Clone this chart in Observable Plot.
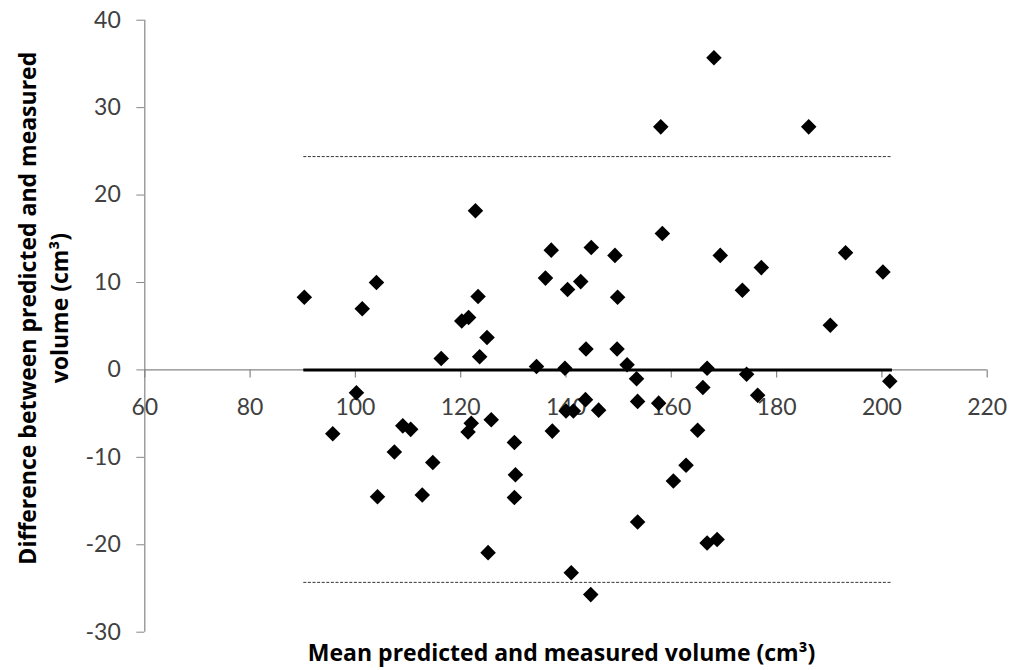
<!DOCTYPE html>
<html>
<head>
<meta charset="utf-8">
<script src="https://cdn.jsdelivr.net/npm/d3@7"></script>
<script src="https://cdn.jsdelivr.net/npm/@observablehq/plot@0.6"></script>
<style>
  html, body { margin: 0; padding: 0; background: #fff; }
  #chart { width: 1013px; height: 670px; }
</style>
</head>
<body>
<div id="chart"></div>
<script>
// Mean of predicted and measured volume (cm³)
const meanVolume = [
  90.3, 95.7, 100.2, 101.3, 104.0, 104.2, 107.4, 109.0, 110.5, 112.7,
  114.7, 116.3, 120.2, 121.5, 121.4, 122.0, 122.8, 123.3, 123.6, 125.0,
  125.2, 125.8, 130.2, 130.4, 130.2, 134.4, 136.1, 137.2, 137.4, 139.8,
  140.0, 140.3, 141.0, 141.4, 142.8, 143.7, 143.8, 144.7, 144.8, 146.2,
  149.3, 149.7, 149.8, 151.6, 153.4, 153.6, 153.6, 157.6, 158.0, 158.3,
  160.4, 162.8, 165.0, 166.0, 166.8, 166.8, 168.1, 168.7, 169.3, 173.5,
  174.3, 176.4, 177.1, 186.1, 190.2, 193.1, 200.2, 201.5
];
// Difference between predicted and measured volume (cm³)
const difference = [
  8.3, -7.3, -2.6, 7.0, 10.0, -14.5, -9.4, -6.4, -6.8, -14.3,
  -10.6, 1.3, 5.6, 6.0, -7.1, -6.1, 18.2, 8.4, 1.5, 3.7,
  -20.9, -5.7, -8.3, -12.0, -14.6, 0.4, 10.5, 13.7, -7.0, 0.2,
  -4.7, 9.2, -23.2, -4.7, 10.1, -3.4, 2.4, -25.7, 14.0, -4.6,
  13.1, 2.4, 8.3, 0.6, -1.0, -3.6, -17.4, -3.8, 27.8, 15.6,
  -12.7, -10.9, -6.9, -2.0, 0.2, -19.8, 35.7, -19.4, 13.1, 9.1,
  -0.5, -2.9, 11.7, 27.8, 5.1, 13.4, 11.2, -1.3
];
// Bias line and limits of agreement
const lineStart = 90.2;
const lineEnd = 202.0;
const meanDiff = 0;
const upperLimit = 24.4;
const lowerLimit = -24.3;

const xTicks = [60, 80, 100, 120, 140, 160, 180, 200, 220];
const yTicks = [-30, -20, -10, 0, 10, 20, 30, 40];
const xTitle = "Mean predicted and measured volume (cm³)";
const yTitle = "Difference between predicted and measured\nvolume (cm³)";

const points = meanVolume.map((m, i) => ({mean: m, diff: difference[i]}));
const limits = [
  {y: upperLimit},
  {y: lowerLimit}
];

const axisGray = "#868686";
const textGray = "#404040";
const titleFont = "'Open Sans', Lato, sans-serif";

const chart = Plot.plot({
  width: 1013,
  height: 670,
  marginLeft: 144.3,
  marginRight: 26.3,
  marginTop: 19.7,
  marginBottom: 38.3,
  style: {fontFamily: "Lato, 'Open Sans', sans-serif", background: "#fff", overflow: "visible"},
  x: {domain: [60, 220], axis: null},
  y: {domain: [-30, 40], axis: null},
  marks: [
    // y axis
    Plot.ruleX([60], {y1: -30, y2: 40, stroke: axisGray, strokeWidth: 1.2}),
    Plot.axisY(yTicks, {
      anchor: "left", tickSize: 8, tickPadding: 16, stroke: axisGray,
      fill: textGray, fontSize: 23, label: null, tickFormat: d => String(d)
    }),
    // x axis drawn along y = 0
    Plot.ruleY([0], {x1: 60, x2: 220, stroke: axisGray, strokeWidth: 1.2}),
    Plot.ruleX(xTicks, {x: d => d, y1: 0, y2: -0.92, stroke: axisGray, strokeWidth: 1.2}),
    Plot.text(xTicks, {x: d => d, y: 0, dy: 38, text: d => String(d), fill: textGray, fontSize: 23, textAnchor: "middle", lineAnchor: "middle"}),
    // limits of agreement
    Plot.ruleY(limits, {y: "y", x1: lineStart, x2: lineEnd, stroke: "#333", strokeWidth: 1, strokeDasharray: "3,1.6"}),
    // mean difference
    Plot.ruleY([meanDiff], {x1: lineStart, x2: lineEnd, stroke: "#000", strokeWidth: 3}),
    // data points
    Plot.dot(points, {x: "mean", y: "diff", symbol: "diamond2", r: 7, fill: "#000", stroke: "none"}),
    // axis titles
    Plot.text([xTitle], {frameAnchor: "bottom", dx: -4.5, dy: 21, fontSize: 23, fontWeight: "bold", fontFamily: titleFont, fill: "#000", textAnchor: "middle", lineAnchor: "middle"}),
    Plot.text([yTitle], {frameAnchor: "left", dx: -103, dy: -18, rotate: -90, fontSize: 23, fontWeight: "bold", fontFamily: titleFont, fill: "#000", textAnchor: "middle", lineAnchor: "middle", lineHeight: 1.4})
  ]
});

document.getElementById("chart").appendChild(chart);
</script>
</body>
</html>
